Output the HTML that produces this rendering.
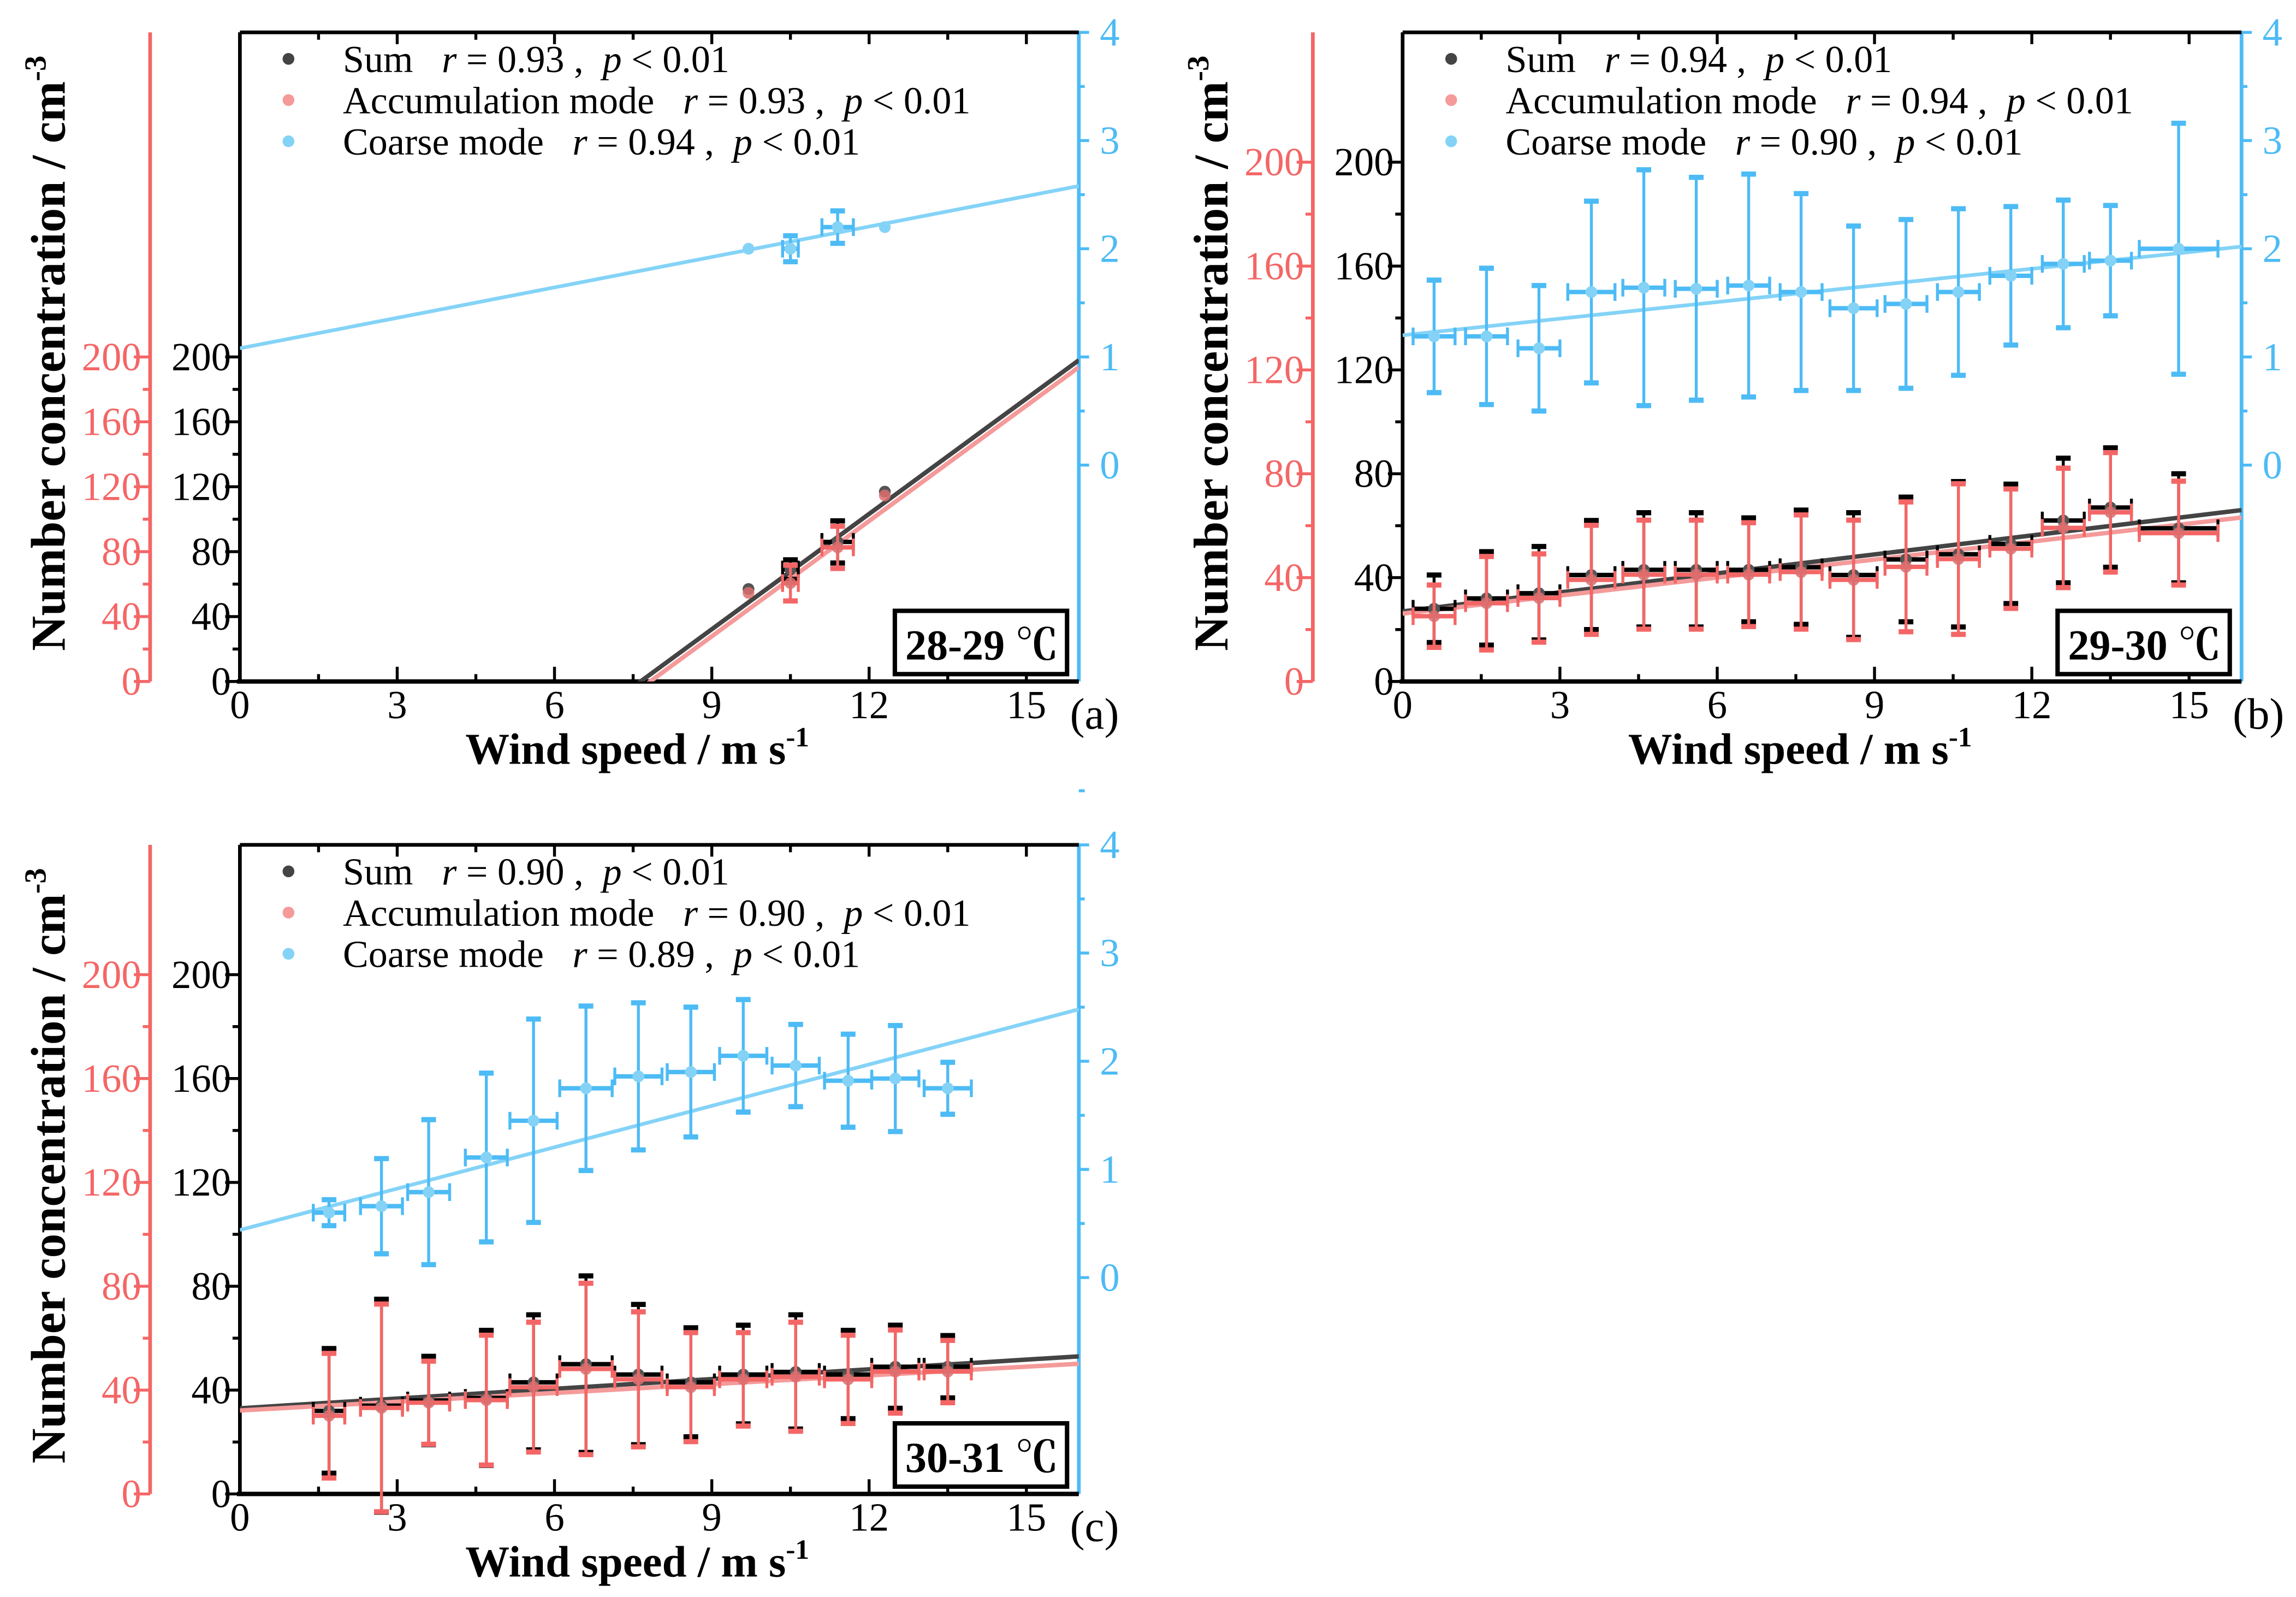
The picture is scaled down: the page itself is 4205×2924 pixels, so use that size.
<!DOCTYPE html>
<html><head><meta charset="utf-8"><style>
html,body{margin:0;padding:0;background:#fff;}
svg{display:block;font-family:"Liberation Serif","Noto Serif CJK SC",serif;}
svg text{font-family:"Liberation Serif","Noto Serif CJK SC",serif;}
</style></head><body>
<svg id="fig" xmlns="http://www.w3.org/2000/svg" width="4205" height="2924" viewBox="0 0 1560 1085" preserveAspectRatio="none" font-family="Liberation Serif, Noto Serif CJK SC, serif"></svg>
<script>
// ---- Panel (a) 28-29 °C ----
const aX = [9.7, 10.5, 11.4, 12.3];
const aSum = [57, 69, 86, 117];
const aSumErr = [0, 6, 13, 0];
const aAcc = [56, 62, 84, 116];
const aAccErr = [0, 11, 13, 0];
const aXErr = [0, 0.15, 0.3, 0];
const aCoarse = [2.0, 2.0, 2.2, 2.2];
const aCoarseErr = [0, 0.12, 0.15, 0];
const aFitSum = [-181, 198];
const aFitAcc = [-184, 195];
const aFitCoarse = [1.08, 2.58];
const aR = ['0.93', '0.93', '0.94'];

// ---- Panel (b) 29-30 °C ----
const bX = [0.6, 1.6, 2.6, 3.6, 4.6, 5.6, 6.6, 7.6, 8.6, 9.6, 10.6, 11.6, 12.6, 13.5, 14.8];
const bSum = [28, 32, 34, 41, 43, 43, 43, 44, 41, 47, 49, 53, 62, 67, 59];
const bSumErr = [13, 18, 18, 21, 22, 22, 20, 22, 24, 24, 28, 23, 24, 23, 21];
const bAcc = [26, 31, 33, 40, 42, 42, 42, 43, 40, 45, 48, 52, 60, 66, 58];
const bAccErr = [12, 18, 17, 21, 21, 21, 20, 22, 23, 25, 29, 23, 23, 23, 20];
const bXErr = [0.4, 0.4, 0.4, 0.45, 0.4, 0.4, 0.4, 0.4, 0.45, 0.4, 0.4, 0.4, 0.4, 0.4, 0.75];
const bCoarse = [1.19, 1.19, 1.08, 1.60, 1.64, 1.63, 1.66, 1.60, 1.45, 1.49, 1.60, 1.75, 1.86, 1.89, 2.00];
const bCoarseErr = [0.52, 0.63, 0.58, 0.84, 1.09, 1.03, 1.03, 0.91, 0.76, 0.78, 0.77, 0.64, 0.59, 0.51, 1.16];
const bFitSum = [27, 66];
const bFitAcc = [27, 64];
const bFitCoarse = [1.2, 2.02];
const bR = ['0.94', '0.94', '0.90'];

// ---- Panel (c) 30-31 °C ----
const cX = [1.7, 2.7, 3.6, 4.7, 5.6, 6.6, 7.6, 8.6, 9.6, 10.6, 11.6, 12.5, 13.5];
const cSum = [32, 34, 36, 37, 43, 50, 46, 43, 46, 47, 46, 49, 49];
const cSumErr = [24, 41, 17, 26, 26, 34, 27, 21, 19, 22, 17, 16, 12];
const cAcc = [31, 34, 36, 37, 42, 49, 45, 42, 45, 46, 45, 48, 48];
const cAccErr = [24, 40, 16, 25, 25, 33, 26, 21, 18, 21, 17, 16, 12];
const cXErr = [0.3, 0.4, 0.4, 0.4, 0.45, 0.5, 0.45, 0.45, 0.45, 0.45, 0.45, 0.45, 0.45];
const cCoarse = [0.60, 0.66, 0.79, 1.11, 1.45, 1.75, 1.86, 1.90, 2.05, 1.96, 1.82, 1.84, 1.75];
const cCoarseErr = [0.12, 0.44, 0.67, 0.78, 0.94, 0.76, 0.68, 0.60, 0.52, 0.38, 0.43, 0.49, 0.24];
const cFitSum = [33, 53];
const cFitAcc = [33, 51];
const cFitCoarse = [0.44, 2.48];
const cR = ['0.90', '0.90', '0.89'];

const yTicks = [0, 40, 80, 120, 160, 200];
const xTicks = [0, 3, 6, 9, 12, 15];
const rTicks = [0, 1, 2, 3, 4];

const NS = 'http://www.w3.org/2000/svg';
const svg = document.getElementById('fig');
const FONT = '"Liberation Serif", "Noto Serif CJK SC", serif';
const BLK = '#000', RED = '#f46666', RED2 = '#f59a9a', BLU = '#4dbbf5', BLU2 = '#84d3f7', GRY = '#444';
const TS = 27;
function mk(tag, attrs, parent) {
  const e = document.createElementNS(NS, tag);
  for (const k in attrs) e.setAttribute(k, attrs[k]);
  if (tag === 'text') e.style.fontFamily = FONT;
  (parent || svg).appendChild(e);
  return e;
}

function panel(o) {
  const g = mk('g', {});
  
  
  const L = o.l, R = o.l + 570, T = o.t, B = o.t + 441;
  const X = v => L + v / 16 * (R - L);
  const Y = v => B - v / o.ymax * (B - T);
  const Yr = v => B - (v + 2) / 6 * (B - T);
  const redX = L - 61;

  const ra = mk('g', {}, g);
  
  
  mk('line', {x1: redX, y1: T, x2: redX, y2: B, stroke: RED, 'stroke-width': 2.5}, ra);
  for (let v = 0; v <= 200; v += 20) {
    const major = v % 40 === 0;
    mk('line', {x1: redX, y1: Y(v), x2: redX - (major ? 11 : 5), y2: Y(v), stroke: RED, 'stroke-width': 2}, ra);
  }
  yTicks.forEach(v => {
    const t = mk('text', {x: redX - 6, y: Y(v) + 9, 'text-anchor': 'end', 'font-size': TS, fill: RED}, ra);
    t.textContent = v;
  });

  const ba = mk('g', {}, g);
  
  
  mk('line', {x1: R, y1: T, x2: R, y2: B, stroke: BLU, 'stroke-width': 2.5}, ba);
  rTicks.forEach(v => {
    mk('line', {x1: R, y1: Yr(v), x2: R + 7, y2: Yr(v), stroke: BLU, 'stroke-width': 2}, ba);
    mk('line', {x1: R, y1: Yr(v + 0.5), x2: R + 4, y2: Yr(v + 0.5), stroke: BLU, 'stroke-width': 2}, ba);
    const t = mk('text', {x: R + 21, y: Yr(v) + 9, 'text-anchor': 'middle', 'font-size': TS, fill: BLU}, ba);
    t.textContent = v;
  });

  const ka = mk('g', {}, g);
  
  
  mk('line', {x1: L, y1: T, x2: L, y2: B, stroke: BLK, 'stroke-width': 2.5}, ka);
  mk('line', {x1: L, y1: T, x2: R, y2: T, stroke: BLK, 'stroke-width': 2.5}, ka);
  for (let v = 0; v <= 200; v += 20) {
    const major = v % 40 === 0;
    mk('line', {x1: L, y1: Y(v), x2: L - (major ? 10 : 5), y2: Y(v), stroke: BLK, 'stroke-width': 2}, ka);
  }
  yTicks.forEach(v => {
    const t = mk('text', {x: L - 6, y: Y(v) + 9, 'text-anchor': 'end', 'font-size': TS, fill: BLK}, ka);
    t.textContent = v;
  });

  const xa = mk('g', {}, g);
  
  
  mk('line', {x1: L - 2, y1: B, x2: R, y2: B, stroke: BLK, 'stroke-width': 3}, xa);
  for (let v = 0; v <= 15; v += 1.5) {
    const major = v % 3 === 0;
    mk('line', {x1: X(v), y1: B, x2: X(v), y2: B - (major ? 10 : 5), stroke: BLK, 'stroke-width': 2}, xa);
    mk('line', {x1: X(v), y1: T, x2: X(v), y2: T + (major ? 8 : 5), stroke: BLK, 'stroke-width': 2}, xa);
  }
  xTicks.forEach(v => {
    const t = mk('text', {x: X(v), y: B + 25, 'text-anchor': 'middle', 'font-size': TS, fill: BLK}, xa);
    t.textContent = v;
  });
  const xt = mk('text', {x: (L + R) / 2 - 15, y: B + 56, 'text-anchor': 'middle', 'font-size': 30, 'font-weight': 'bold'}, g);
  
  
  xt.innerHTML = 'Wind speed / m s<tspan dy="-12" font-size="19">-1</tspan>';
  const pl = mk('text', {x: R - 6, y: B + 32, 'font-size': 30}, g);
  
  
  pl.textContent = '(' + o.tag + ')';

  const yt = mk('text', {x: 0, y: 0, 'text-anchor': 'middle', 'font-size': 33, 'font-weight': 'bold', transform: `translate(${L - 119},${T + 218}) rotate(-90)`}, g);
  
  
  yt.innerHTML = 'Number concentration / cm<tspan dy="-13" font-size="21">-3</tspan>';

  const cid = 'clip' + o.tag;
  const cp = mk('clipPath', {id: cid}, g);
  mk('rect', {x: L, y: T, width: R - L, height: B - T}, cp);
  const plot = mk('g', {'clip-path': `url(#${cid})`}, g);

  const f1 = mk('line', {x1: X(0), y1: Yr(o.fc[0]), x2: X(16), y2: Yr(o.fc[1]), stroke: BLU2, 'stroke-width': 2.5}, plot);
  
  
  const f2 = mk('line', {x1: X(0), y1: Y(o.fs[0]), x2: X(16), y2: Y(o.fs[1]), stroke: GRY, 'stroke-width': 3}, plot);
  
  
  const f3 = mk('line', {x1: X(0), y1: Y(o.fa[0]) + 1.5, x2: X(16), y2: Y(o.fa[1]) + 1.5, stroke: RED2, 'stroke-width': 3}, plot);
  
  

  function series(xs, ys, es, xe, yf, col, mcol, name, capw) {
    const sg = mk('g', {}, g);
    
    
    xs.forEach((x, i) => {
      const px = X(x), py = yf(ys[i]);
      if (es[i] > 0) {
        const y1 = yf(ys[i] + es[i]), y2 = yf(ys[i] - es[i]);
        mk('line', {x1: px, y1: y1, x2: px, y2: y2, stroke: col, 'stroke-width': 2}, sg);
        mk('line', {x1: px - capw, y1: y1, x2: px + capw, y2: y1, stroke: col, 'stroke-width': 3.5}, sg);
        mk('line', {x1: px - capw, y1: y2, x2: px + capw, y2: y2, stroke: col, 'stroke-width': 3.5}, sg);
      }
      if (xe[i] > 0) {
        const x1 = X(x - xe[i]), x2 = X(x + xe[i]);
        mk('line', {x1: x1, y1: py, x2: x2, y2: py, stroke: col, 'stroke-width': 3}, sg);
        mk('line', {x1: x1, y1: py - 6, x2: x1, y2: py + 6, stroke: col, 'stroke-width': 2}, sg);
        mk('line', {x1: x2, y1: py - 6, x2: x2, y2: py + 6, stroke: col, 'stroke-width': 2}, sg);
      }
      const c = mk('circle', {cx: px, cy: py, r: 4, fill: mcol}, sg);
      
      
    });
  }
  series(o.x, o.coarse, o.coarseErr, o.xe, Yr, BLU, BLU2, 'coarse', 5);
  series(o.x, o.sum, o.sumErr, o.xe, Y, BLK, '#555', 'sum', 5);
  series(o.x, o.acc, o.accErr, o.xe, v => Y(v) + 1.5, RED, 'rgba(220,110,110,0.85)', 'accumulation', 5);

  const lg = mk('g', {}, g);
  
  
  const names = ['Sum', 'Accumulation mode', 'Coarse mode'];
  const cols = ['#444', '#f59a9a', '#84d3f7'];
  names.forEach((n, i) => {
    const ly = T + 18 + i * 28;
    const e = mk('g', {}, lg);
    
    
    mk('circle', {cx: L + 33, cy: ly, r: 4, fill: cols[i]}, e);
    const t = mk('text', {x: L + 70, y: ly + 9, 'font-size': 26}, e);
    t.innerHTML = n + '&#160;&#160;&#160;<tspan font-style="italic">r</tspan> = ' + o.r[i] + ' ,&#160;&#160;<tspan font-style="italic">p</tspan> &lt; 0.01';
  });

  const tb = mk('g', {}, g);
  
  
  mk('rect', {x: R - 125, y: B - 48, width: 117, height: 43, fill: '#fff', stroke: BLK, 'stroke-width': 3}, tb);
  const tt = mk('text', {x: R - 66, y: B - 15, 'text-anchor': 'middle', 'font-size': 29, 'font-weight': 'bold'}, tb);
  tt.textContent = o.temp + ' ℃';
}

panel({tag: 'a', l: 163, t: 22, ymax: 400, x: aX, sum: aSum, sumErr: aSumErr, acc: aAcc, accErr: aAccErr, xe: aXErr, coarse: aCoarse, coarseErr: aCoarseErr, fs: aFitSum, fa: aFitAcc, fc: aFitCoarse, r: aR, temp: '28-29'});
panel({tag: 'b', l: 953, t: 22, ymax: 250, x: bX, sum: bSum, sumErr: bSumErr, acc: bAcc, accErr: bAccErr, xe: bXErr, coarse: bCoarse, coarseErr: bCoarseErr, fs: bFitSum, fa: bFitAcc, fc: bFitCoarse, r: bR, temp: '29-30'});
panel({tag: 'c', l: 163, t: 574, ymax: 250, x: cX, sum: cSum, sumErr: cSumErr, acc: cAcc, accErr: cAccErr, xe: cXErr, coarse: cCoarse, coarseErr: cCoarseErr, fs: cFitSum, fa: cFitAcc, fc: cFitCoarse, r: cR, temp: '30-31'});
</script>
</body></html>
